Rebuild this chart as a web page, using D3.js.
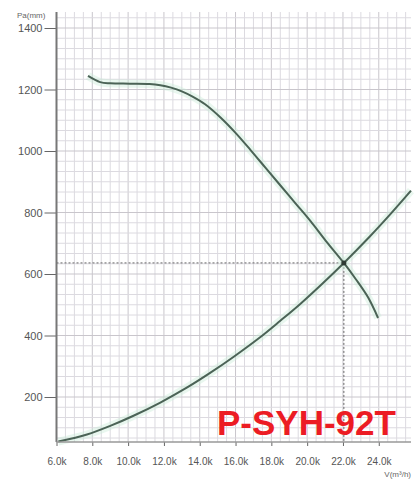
<!doctype html>
<html lang="en">
<head>
    <meta charset="UTF-8" />
    <script src="https://d3js.org/d3.v7.min.js"></script>
    <title>P-SYH-92T</title>
    <style>
        body { margin: 0; background: #fff; }
    </style>
</head>
<body>
    <div id="chart"></div>
    <script>
        // Fan curve (pressure vs airflow), airflow in thousands
        const fanFlow = [7.76, 8.44, 9.0, 10.1, 11.2, 11.8, 12.4, 13.0, 13.6, 14.3, 15.16, 16.0, 16.84, 17.68, 18.52, 19.36, 20.2, 21.04, 22.05, 22.72, 23.4, 23.96]
        const fanPressure = [1244, 1224, 1220, 1219, 1218, 1214, 1206, 1194, 1177, 1152, 1109, 1059, 1003, 945, 887, 829, 771, 708, 636, 583, 524, 457]

        // System resistance curve
        const sysFlow = [6.1, 7.7, 9.0, 10.3, 11.8, 13.3, 14.6, 15.9, 17.3, 18.5, 19.6, 20.8, 22.05, 23.5, 24.7, 25.8]
        const sysPressure = [55, 78, 106, 139, 182, 231, 279, 331, 391, 448, 502, 566, 636, 722, 798, 871]

        // Operating point
        const opFlow = 22.05
        const opPressure = 636

        const xTicks = [6, 8, 10, 12, 14, 16, 18, 20, 22, 24]
        const xTickLabels = ["6.0k", "8.0k", "10.0k", "12.0k", "14.0k", "16.0k", "18.0k", "20.0k", "22.0k", "24.0k"]
        const yTicks = [200, 400, 600, 800, 1000, 1200, 1400]

        const W = 417, H = 482
        const x = d3.scaleLinear().domain([6, 25.8]).range([56.5, 411])
        const y = d3.scaleLinear().domain([200, 1400]).range([397, 28])
        const yBottom = 442, yTop = 12

        const svg = d3.select("#chart").append("svg")
            .attr("width", W)
            .attr("height", H)

        // grid
        const grid = svg.append("g")
        const xGrid = d3.range(6.5, 25.8, 0.5)
        grid.selectAll("line.gx")
            .data(xGrid)
            .enter().append("line")
            .attr("x1", d => x(d)).attr("x2", d => x(d))
            .attr("y1", yTop).attr("y2", yBottom)
            .attr("stroke", d => d % 2 === 0 ? "#c9c6cc" : "#dcdae0")
            .attr("stroke-width", 1)

        const yGrid = []
        for (let v = 1400 + 200 / 6; v > y.invert(yBottom) + 5; v -= 200 / 6) yGrid.push(v)
        grid.selectAll("line.gy")
            .data(yGrid)
            .enter().append("line")
            .attr("x1", x(6)).attr("x2", x(25.8))
            .attr("y1", d => y(d)).attr("y2", d => y(d))
            .attr("stroke", d => Math.abs(d % 200) < 1 || Math.abs(d % 200 - 200) < 1 ? "#c9c6cc" : "#dcdae0")
            .attr("stroke-width", 1)

        // dotted guide lines to operating point
        svg.append("line")
            .attr("x1", x(6)).attr("x2", x(opFlow))
            .attr("y1", y(opPressure)).attr("y2", y(opPressure))
            .attr("stroke", "#666").attr("stroke-width", 1)
            .attr("stroke-dasharray", "2,2")
        svg.append("line")
            .attr("x1", x(opFlow)).attr("x2", x(opFlow))
            .attr("y1", y(opPressure)).attr("y2", yBottom)
            .attr("stroke", "#666").attr("stroke-width", 1)
            .attr("stroke-dasharray", "2,2")

        // curves
        const line = d3.line().x(d => x(d[0])).y(d => y(d[1])).curve(d3.curveCatmullRom.alpha(0.5))
        const fanData = d3.zip(fanFlow, fanPressure)
        const sysData = d3.zip(sysFlow, sysPressure)

        ;[fanData, sysData].forEach(data => {
            svg.append("path").datum(data)
                .attr("d", line)
                .attr("fill", "none")
                .attr("stroke", "#c8ecd6")
                .attr("stroke-opacity", 0.4)
                .attr("stroke-width", 8)
        })
        ;[fanData, sysData].forEach(data => {
            svg.append("path").datum(data)
                .attr("d", line)
                .attr("fill", "none")
                .attr("stroke", "#4b6356")
                .attr("stroke-width", 2)
        })

        svg.append("circle")
            .attr("cx", x(opFlow)).attr("cy", y(opPressure))
            .attr("r", 2.5).attr("fill", "#2e3b34")

        // axes
        const yAxis = svg.append("g")
            .attr("transform", `translate(${x(6)},0)`)
            .call(d3.axisLeft(y).tickValues(yTicks).tickSize(12).tickPadding(2).tickFormat(d3.format("d")))
        yAxis.select(".domain").remove()
        yAxis.selectAll("line").attr("stroke", "#666")
        yAxis.selectAll("text")
            .attr("fill", "#555")
            .attr("font-size", "11px")
            .attr("font-family", "Liberation Sans, Arial, sans-serif")

        const xAxis = svg.append("g")
            .attr("transform", `translate(0,${yBottom})`)
            .call(d3.axisBottom(x).tickValues(xTicks).tickSize(4).tickPadding(12)
                .tickFormat((d, i) => xTickLabels[i]))
        xAxis.select(".domain").remove()
        xAxis.selectAll("line").attr("stroke", "#666")
        xAxis.selectAll("text")
            .attr("fill", "#555")
            .attr("font-size", "10px")
            .attr("font-family", "Liberation Sans, Arial, sans-serif")

        svg.append("line")
            .attr("x1", x(6)).attr("x2", x(6))
            .attr("y1", yTop).attr("y2", yBottom)
            .attr("stroke", "#777").attr("stroke-width", 2)
        svg.append("line")
            .attr("x1", x(6)).attr("x2", x(25.8))
            .attr("y1", yBottom).attr("y2", yBottom)
            .attr("stroke", "#999").attr("stroke-width", 1.5)

        // axis titles
        svg.append("text")
            .attr("x", 17).attr("y", 18)
            .attr("font-size", "8px")
            .attr("fill", "#666")
            .attr("font-family", "Liberation Sans, Arial, sans-serif")
            .text("Pa(mm)")
        svg.append("text")
            .attr("x", 411).attr("y", 477)
            .attr("text-anchor", "end")
            .attr("font-size", "8px")
            .attr("fill", "#666")
            .attr("font-family", "Liberation Sans, Arial, sans-serif")
            .text("V(m³/h)")

        // model label
        svg.append("text")
            .attr("x", 217).attr("y", 435)
            .attr("font-size", "35px")
            .attr("font-weight", "bold")
            .attr("fill", "#ec1c24")
            .attr("font-family", "Liberation Sans, Arial, sans-serif")
            .text("P-SYH-92T")
    </script>
</body>
</html>
